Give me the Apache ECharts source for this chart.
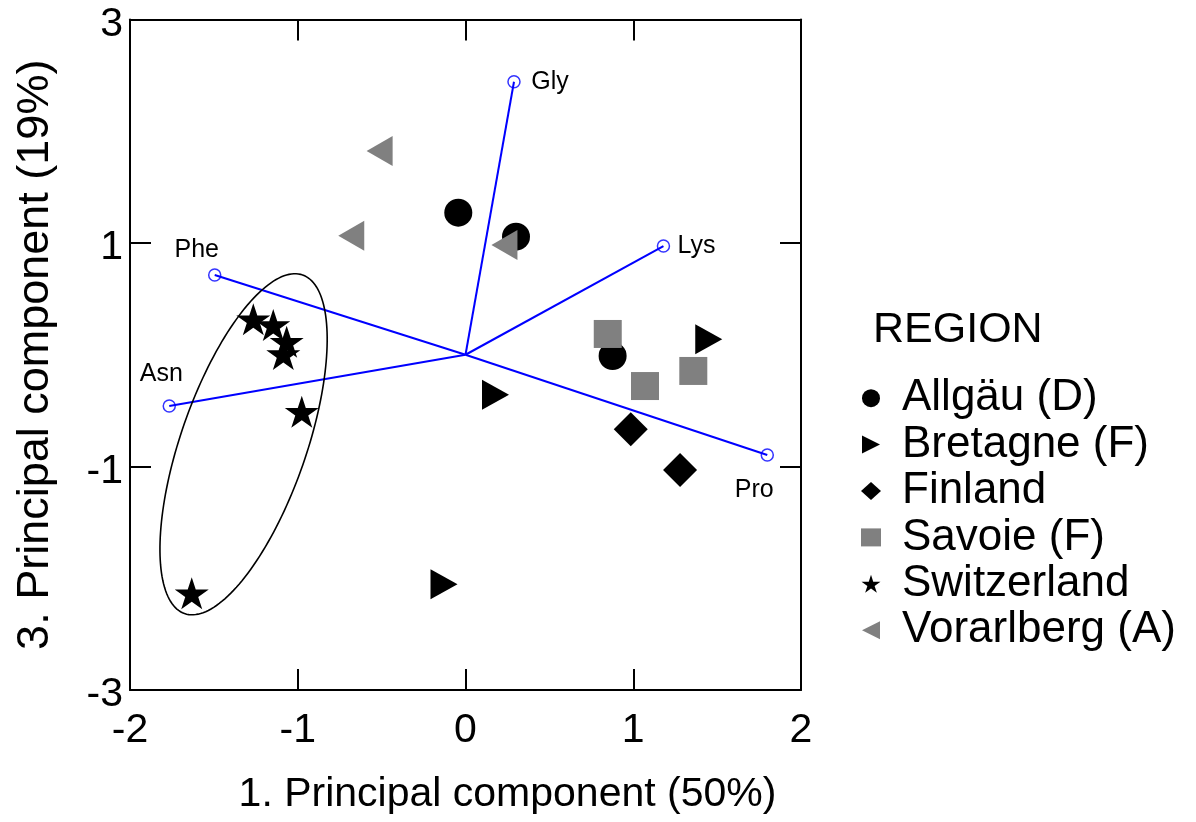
<!DOCTYPE html>
<html><head><meta charset="utf-8">
<script src="https://cdn.jsdelivr.net/npm/echarts@6/dist/echarts.min.js"></script>
<style>html,body{margin:0;padding:0;background:#fff}#c{width:1196px;height:822px}</style>
</head><body><div id="c"></div>
<script>
// ---- data ----
const regions = ['Allgäu (D)', 'Bretagne (F)', 'Finland', 'Savoie (F)', 'Switzerland', 'Vorarlberg (A)'];
const allgau      = [[-0.043, 1.271], [0.301, 1.057], [0.877, -0.011]];
const bretagne    = [[1.450, 0.138], [0.179, -0.357], [-0.128, -2.054]];
const finland     = [[0.985, -0.667], [1.279, -1.031]];
const savoie      = [[0.848, 0.186], [1.070, -0.280], [1.358, -0.145]];
const switzerland = [[-1.265, 0.317], [-1.146, 0.266], [-1.066, 0.117], [-1.086, 0.007], [-0.976, -0.510], [-1.632, -2.135]];
const vorarlberg  = [[-0.512, 1.823], [-0.681, 1.064], [0.232, 0.982]];
const loadingNames = ['Gly', 'Lys', 'Phe', 'Asn', 'Pro'];
const loadingX = [0.289, 1.180, -1.495, -1.766, 1.799];
const loadingY = [2.443, 0.973, 0.714, -0.459, -0.897];
const ellipseCenter = [-1.323, -0.801];
const ellipseMajor = [0.352, 1.515];
const ellipseMinor = [0.353, -0.185];
const xTickMin = -2, xTickMax = 2, xTickStep = 1;
const yTickMin = -3, yTickMax = 3, yTickStep = 2;
const xTitle = '1. Principal component (50%)';
const yTitle = '3. Principal component (19%)';
const legendTitle = 'REGION';

// ---- styles ----
const FONT = "'Liberation Sans', Arial, sans-serif";
const STAR = 'path://M50,0L61.23,34.55L97.55,34.55L68.17,55.9L79.39,90.45L50,69.1L20.61,90.45L31.83,55.9L2.45,34.55L38.77,34.55Z';
const TRI_R = 'path://M0,0L1,0.5L0,1Z';
const TRI_L = 'path://M1,0L0,0.5L1,1Z';
const regionStyle = [
  {data: allgau, symbol: 'circle', size: 28, color: '#000', icon: 'circle'},
  {data: bretagne, symbol: TRI_R, size: [27, 30], color: '#000', icon: TRI_R},
  {data: finland, symbol: 'diamond', size: 34, color: '#000', icon: 'diamond'},
  {data: savoie, symbol: 'rect', size: 28, color: '#808080', icon: 'rect'},
  {data: switzerland, symbol: STAR, size: [34, 32], color: '#000', icon: STAR},
  {data: vorarlberg, symbol: TRI_L, size: [26, 30], color: '#808080', icon: TRI_L}
];
const labelOffsets = {Gly: [36, 0], Lys: [33, 0], Phe: [-18, -25], Asn: [-8, -32], Pro: [-13, 35]};

const chart = echarts.init(document.getElementById('c'), null, {renderer: 'canvas'});

const axisCommon = {
  axisLine: {onZero: false, lineStyle: {color: '#000', width: 2}},
  axisTick: {inside: true, length: 21, lineStyle: {color: '#000', width: 2}},
  splitLine: {show: false}
};

const series = [];
series.push({
  name: 'loadings-lines', type: 'custom', z: 2, silent: true,
  data: loadingX.map((x, i) => [x, loadingY[i]]),
  renderItem: (params, api) => {
    const p0 = api.coord([0, 0]);
    const p1 = api.coord([api.value(0), api.value(1)]);
    return {type: 'line', shape: {x1: p0[0], y1: p0[1], x2: p1[0], y2: p1[1]},
      style: {stroke: '#0000ff', lineWidth: 2}};
  }
});
series.push({
  name: 'ellipse', type: 'custom', z: 2, silent: true,
  data: [ellipseCenter],
  renderItem: (params, api) => {
    const cx = api.value(0), cy = api.value(1);
    const pts = [];
    for (let k = 0; k <= 180; k++) {
      const t = 2 * Math.PI * k / 180;
      pts.push(api.coord([
        cx + Math.cos(t) * ellipseMajor[0] + Math.sin(t) * ellipseMinor[0],
        cy + Math.cos(t) * ellipseMajor[1] + Math.sin(t) * ellipseMinor[1]
      ]));
    }
    return {type: 'polyline', shape: {points: pts}, style: {fill: null, stroke: '#000', lineWidth: 1.6}};
  }
});
regions.forEach((r, i) => {
  const s = regionStyle[i];
  series.push({
    name: r, type: 'scatter', z: 3, data: s.data, symbol: s.symbol, symbolSize: s.size,
    itemStyle: {color: s.color, opacity: 1}
  });
});
series.push({
  name: 'loadings', type: 'scatter', z: 4,
  data: loadingNames.map((n, i) => ({name: n, value: [loadingX[i], loadingY[i]],
    label: {offset: labelOffsets[n]}})),
  symbol: 'circle', symbolSize: 12,
  itemStyle: {color: 'rgba(255,255,255,0)', borderColor: '#0000ff', borderWidth: 1.5},
  label: {show: true, position: 'inside', formatter: '{b}', color: '#000000', opacity: 1,
    textBorderWidth: 0, fontSize: 25, fontFamily: FONT}
});

chart.setOption({
  animation: false,
  backgroundColor: '#fff',
  textStyle: {fontFamily: FONT},
  title: {text: legendTitle, left: 868, top: 304,
    textStyle: {fontSize: 43, fontWeight: 'normal', color: '#000', fontFamily: FONT}},
  grid: {left: 130, right: 395, top: 19.5, bottom: 132, containLabel: false},
  legend: {
    orient: 'vertical', left: 856, top: 370, itemGap: 0, itemWidth: 20, itemHeight: 18,
    selectedMode: false,
    textStyle: {fontSize: 44, color: '#000', lineHeight: 46.4, padding: [0, 0, 0, 16], fontFamily: FONT},
    data: regions.map((r, i) => ({name: r, icon: regionStyle[i].icon}))
  },
  xAxis: [
    Object.assign({type: 'value', position: 'bottom', min: xTickMin, max: xTickMax, interval: xTickStep,
      axisLabel: {fontSize: 41, color: '#000', margin: 20, fontFamily: FONT},
      name: xTitle, nameLocation: 'middle', nameGap: 84,
      nameTextStyle: {fontSize: 41, color: '#000', fontFamily: FONT, padding: [0, 0, 0, 84]}}, axisCommon),
    Object.assign({type: 'value', position: 'top', min: xTickMin, max: xTickMax, interval: xTickStep,
      axisLabel: {show: false}}, axisCommon)
  ],
  yAxis: [
    Object.assign({type: 'value', position: 'left', min: yTickMin, max: yTickMax, interval: yTickStep,
      axisLabel: {fontSize: 41, color: '#000', margin: 7, fontFamily: FONT,
        formatter: '{v|{value}}',
        rich: {v: {fontSize: 41, color: '#000', fontFamily: FONT, padding: [10, 0, 0, 0]}}},
      name: yTitle, nameLocation: 'middle', nameGap: 72,
      nameTextStyle: {fontSize: 45, color: '#000', fontFamily: FONT}}, axisCommon),
    Object.assign({type: 'value', position: 'right', min: yTickMin, max: yTickMax, interval: yTickStep,
      axisLabel: {show: false}}, axisCommon)
  ],
  series: series
});
</script>
</body></html>
